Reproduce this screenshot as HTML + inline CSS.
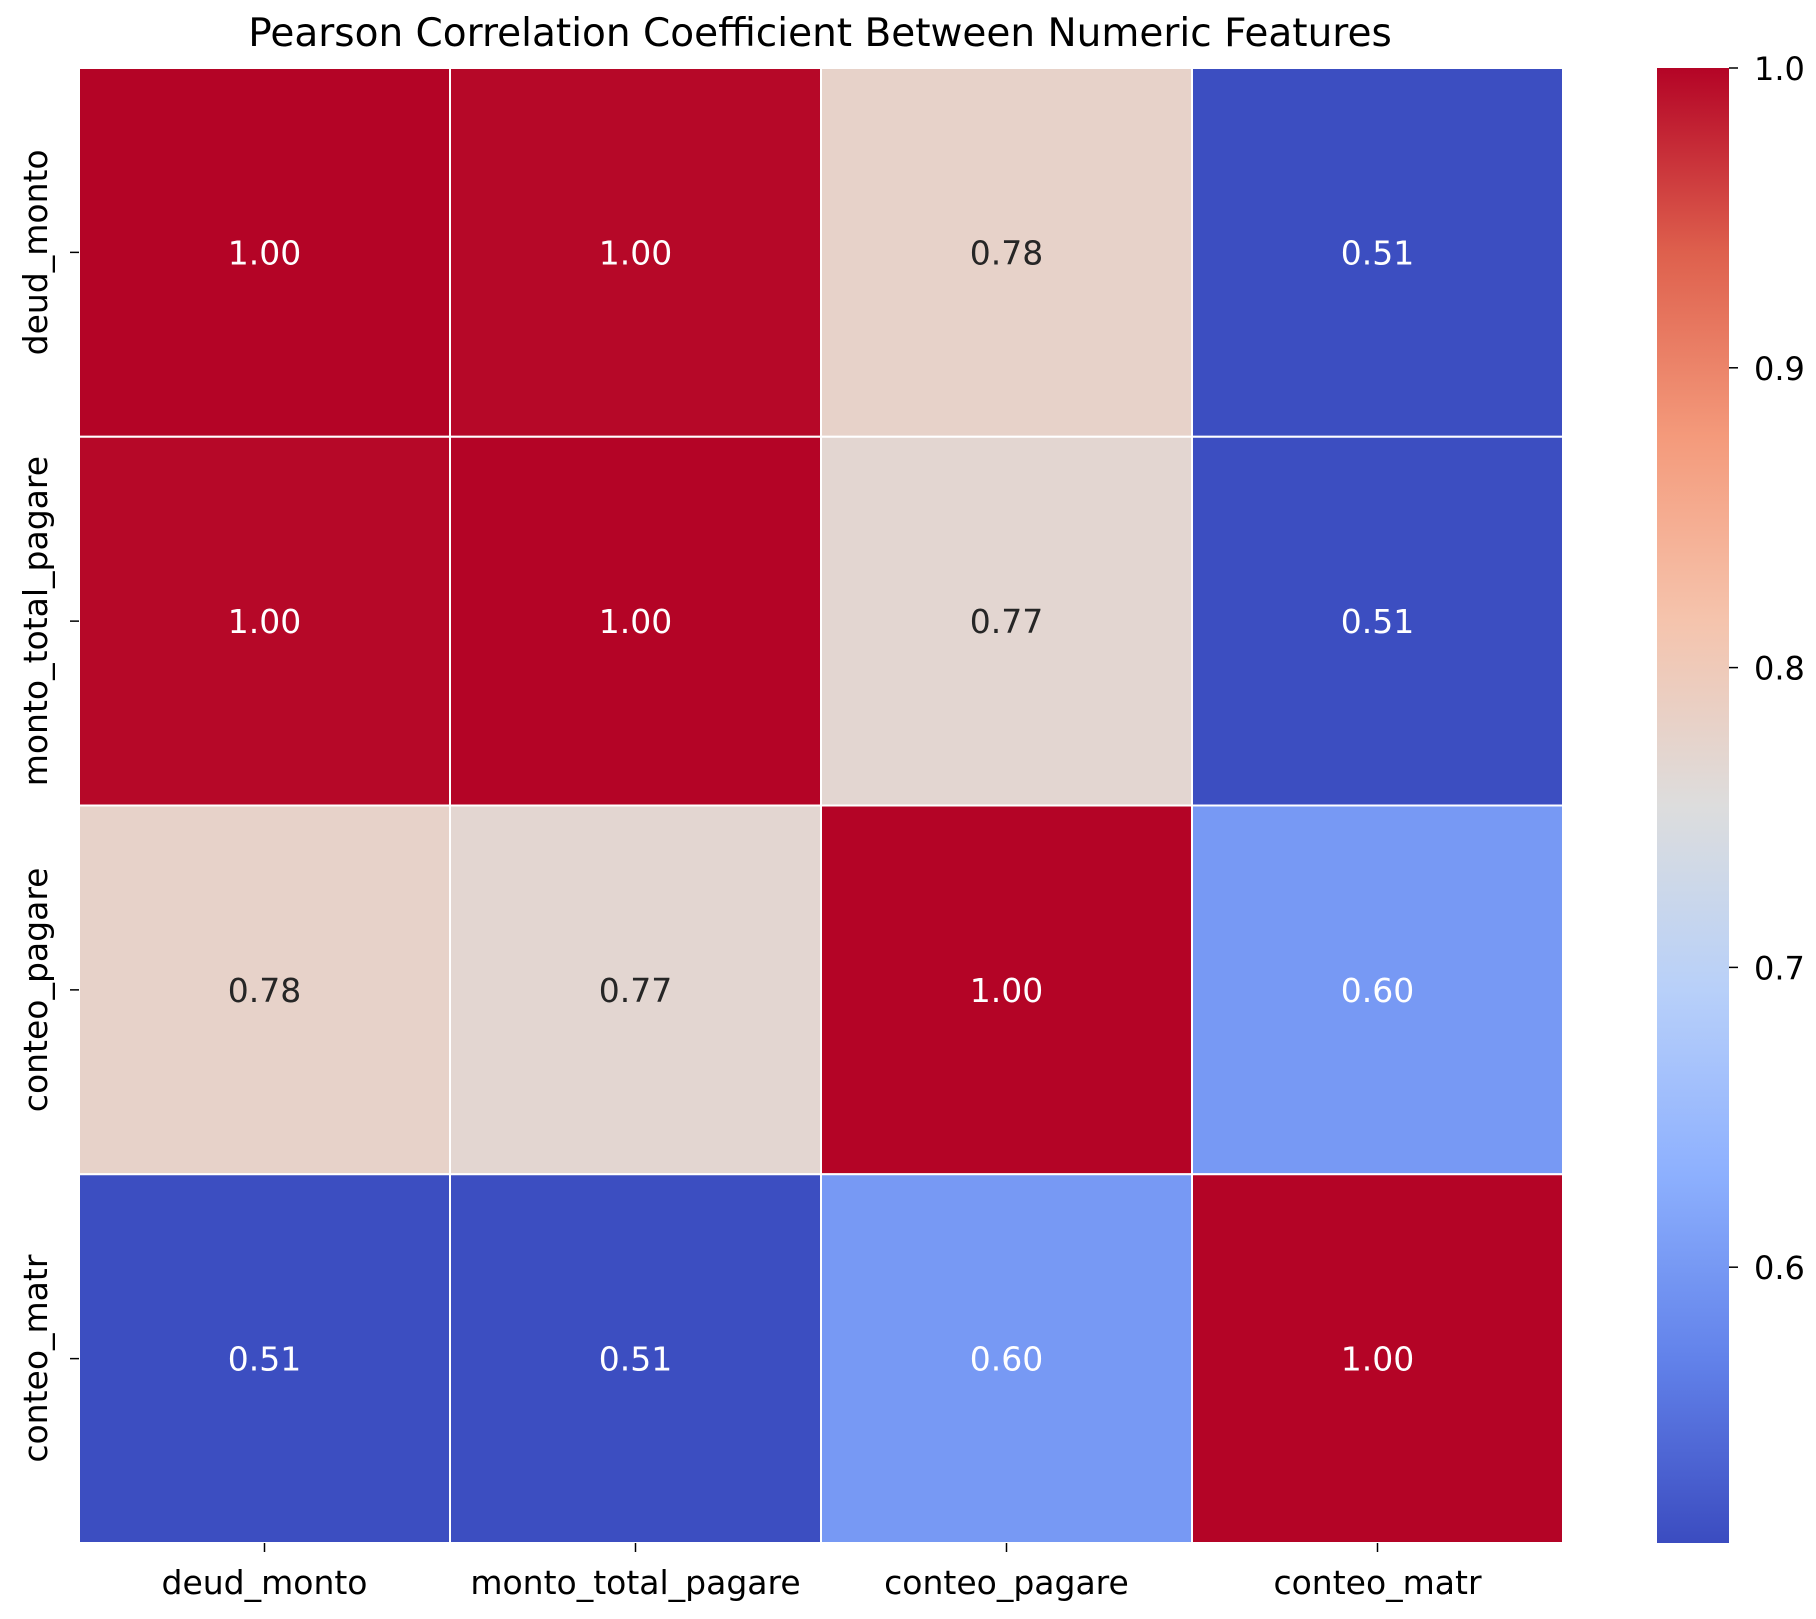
<!DOCTYPE html>
<html><head><meta charset="utf-8"><style>
body{margin:0;background:#fff;}
svg text{font-family:"DejaVu Sans","Liberation Sans",sans-serif;}
</style></head><body>
<svg id="chart" width="1816" height="1614" xmlns="http://www.w3.org/2000/svg">
<defs><linearGradient id="cbg" x1="0" y1="1" x2="0" y2="0"></linearGradient></defs>
<text x="820" y="46" font-size="39" text-anchor="middle" fill="#000">Pearson Correlation Coefficient Between Numeric Features</text>
<g id="cells"></g><g id="xt"></g><g id="yt"></g><g id="cb"></g>
</svg>
<script>
const labels=["deud_monto","monto_total_pagare","conteo_pagare","conteo_matr"];
const row0=[1.0,0.997,0.78,0.51];
const row1=[0.997,1.0,0.77,0.51];
const row2=[0.78,0.77,1.0,0.60];
const row3=[0.51,0.51,0.60,1.0];
const matrix=[row0,row1,row2,row3];
const cbTicks=[0.6,0.7,0.8,0.9,1.0];
const vmin=0.508, vmax=1.0;
const L=79,R=1563,T=68,B=1543;
const cw=(R-L)/labels.length, ch=(B-T)/labels.length;
const stops=[[59,76,192],[98,130,234],[141,176,254],[184,208,249],[221,221,221],[245,196,173],[244,154,123],[222,96,77],[180,4,38]];
function cmap(v){let t=(v-vmin)/(vmax-vmin);t=Math.max(0,Math.min(1,t));const p=t*(stops.length-1);const i=Math.min(stops.length-2,Math.floor(p));const f=p-i;const a=stops[i],b=stops[i+1];return [0,1,2].map(k=>Math.round(a[k]+(b[k]-a[k])*f));}
const NS="http://www.w3.org/2000/svg";
function mk(tag,attrs,parent){const e=document.createElementNS(NS,tag);for(const k in attrs)e.setAttribute(k,attrs[k]);parent.appendChild(e);return e;}
const cells=document.getElementById('cells');
matrix.forEach((row,r)=>row.forEach((v,c)=>{
 const col=cmap(v);
 const rect=mk('rect',{x:L+c*cw,y:T+r*ch,width:cw,height:ch,fill:`rgb(${col})`,stroke:'#fff','stroke-width':2},cells);
 
 
 const lum=0.299*col[0]+0.587*col[1]+0.114*col[2];
 const t=mk('text',{x:L+(c+0.5)*cw,y:T+(r+0.5)*ch+12,'font-size':33,'text-anchor':'middle',fill:lum>185?'#262626':'#fff'},cells);
 t.textContent=v.toFixed(2);
 
 
}));
const xt=document.getElementById('xt'),yt=document.getElementById('yt');
labels.forEach((lab,i)=>{
 const x=L+(i+0.5)*cw;
 mk('line',{x1:x,y1:B,x2:x,y2:B+9,stroke:'#000','stroke-width':1.5},xt);
 const t=mk('text',{x:x,y:1594,'font-size':33,'text-anchor':'middle',fill:'#000'},xt);
 t.textContent=lab;
 
 
 const y=T+(i+0.5)*ch;
 mk('line',{x1:L-9,y1:y,x2:L,y2:y,stroke:'#000','stroke-width':1.5},yt);
 const u=mk('text',{x:0,y:0,'font-size':33,'text-anchor':'middle',fill:'#000',transform:`translate(47,${y}) rotate(-90)`},yt);
 u.textContent=lab;
 
 
});
const grad=document.getElementById('cbg');
for(let i=0;i<=16;i++){const v=vmin+(vmax-vmin)*i/16;mk('stop',{offset:i/16,'stop-color':`rgb(${cmap(v)})`},grad);}
const cb=document.getElementById('cb');
const CL=1657,CR=1729;
const bar=mk('rect',{x:CL,y:T,width:CR-CL,height:B-T,fill:'url(#cbg)'},cb);


const cy=v=>B-(v-vmin)/(vmax-vmin)*(B-T);
cbTicks.forEach(v=>{
 const y=cy(v);
 mk('line',{x1:CR,y1:y,x2:CR+9,y2:y,stroke:'#000','stroke-width':1.5},cb);
 const t=mk('text',{x:CR+25,y:y+12,'font-size':32,fill:'#000'},cb);
 t.textContent=v.toFixed(1);
 
 
});
</script>
</body></html>
